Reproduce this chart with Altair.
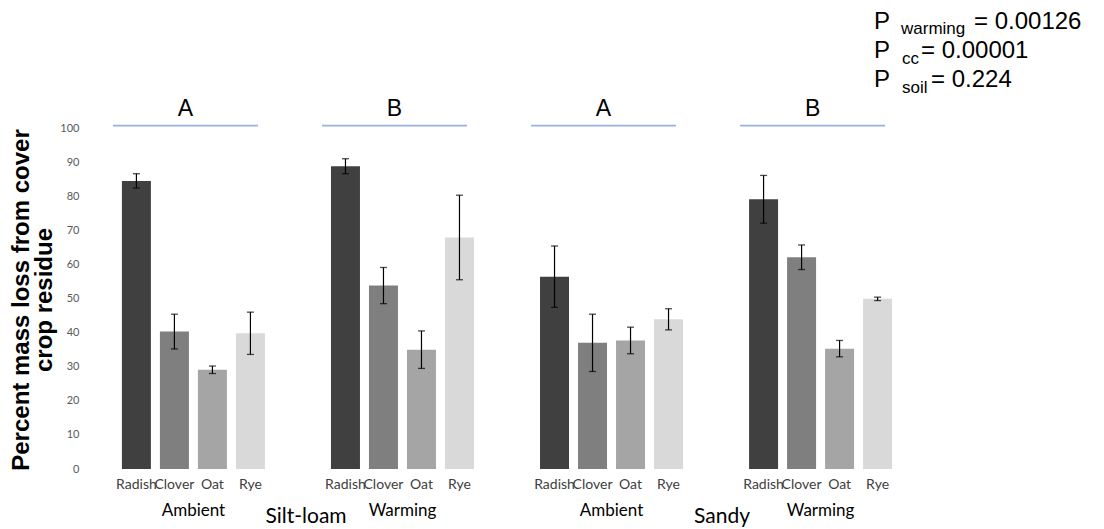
import altair as alt
import pandas as pd

groups = ["Ambient|Silt-loam", "Warming|Silt-loam", "Ambient|Sandy", "Warming|Sandy"]
crops = ["Radish", "Clover", "Oat", "Rye"]
crop_colors = ["#404040", "#7f7f7f", "#a5a5a5", "#d9d9d9"]

mean_g1 = [84.5, 40.3, 29.1, 39.8]
mean_g2 = [88.8, 53.8, 35.0, 67.9]
mean_g3 = [56.4, 37.0, 37.7, 43.9]
mean_g4 = [79.1, 62.1, 35.3, 49.9]
err_g1 = [2.1, 5.1, 1.1, 6.2]
err_g2 = [2.2, 5.3, 5.5, 12.4]
err_g3 = [9.0, 8.4, 3.9, 3.1]
err_g4 = [7.0, 3.6, 2.4, 0.5]

letters = ["A", "B", "A", "B"]
y_ticks = [0, 10, 20, 30, 40, 50, 60, 70, 80, 90, 100]
y_title = ["Percent mass loss from cover", "crop residue"]

means = [mean_g1, mean_g2, mean_g3, mean_g4]
errs = [err_g1, err_g2, err_g3, err_g4]
rows = []
for g, m, e in zip(groups, means, errs):
    for c, mv, ev in zip(crops, m, e):
        rows.append({"group": g, "crop": c, "mean": mv, "lo": mv - ev, "hi": mv + ev})
df = pd.DataFrame(rows)
sig = pd.DataFrame({"group": groups, "letter": letters, "line": 100.7, "ly": 103.4})

W = 836
H = 461
YMAX = 135.2

xscale = alt.Scale(domain=groups, paddingInner=0.273, paddingOuter=0.136)
xoff = alt.XOffset("crop:N", sort=crops,
                   scale=alt.Scale(domain=crops, paddingInner=0.237, paddingOuter=0.118))
X = alt.X("group:N", sort=groups, scale=xscale,
          axis=alt.Axis(title=None, domain=False, ticks=False, labelAngle=0,
                        labelExpr="split(datum.label, '|')[0]",
                        labelFont="Lato", labelFontSize=17, labelColor="#000000",
                        labelPadding=33))
Y = alt.Y("mean:Q", scale=alt.Scale(domain=[0, YMAX], nice=False, zero=True),
          axis=alt.Axis(values=y_ticks, domain=False, ticks=False, grid=False,
                        labelFont="Lato", labelFontSize=11, labelColor="#595959",
                        labelPadding=10, title=None))

base = alt.Chart(df)
Xp = alt.X("group:N", sort=groups, scale=xscale)

bars = base.mark_bar().encode(
    x=X, xOffset=xoff, y=Y,
    color=alt.Color("crop:N", scale=alt.Scale(domain=crops, range=crop_colors), legend=None),
)
err_rule = base.mark_rule(color="#000000", strokeWidth=1.2).encode(
    x=Xp, xOffset=xoff, y=alt.Y("lo:Q"), y2="hi:Q")
err_top = base.mark_tick(orient="horizontal", size=7, thickness=1.3, color="#000000").encode(
    x=Xp, xOffset=xoff, y=alt.Y("hi:Q"))
err_bot = base.mark_tick(orient="horizontal", size=7, thickness=1.3, color="#000000").encode(
    x=Xp, xOffset=xoff, y=alt.Y("lo:Q"))
crop_lbl = base.mark_text(font="Lato", fontSize=14, color="#404040", baseline="alphabetic").encode(
    x=Xp, xOffset=xoff, y=alt.value(H + 20), text="crop:N")

sig_line = alt.Chart(sig).mark_tick(orient="horizontal", size=145, thickness=1.6,
                                    color="#6f8fd6", xOffset=-8).encode(
    x=Xp, y=alt.Y("line:Q"))
sig_txt = alt.Chart(sig).mark_text(font="Liberation Sans", fontSize=23, color="#000000",
                                   baseline="alphabetic", dx=-8).encode(
    x=Xp, y=alt.Y("ly:Q"), text="letter:N")


def label(txt, x, y, size, align="left", font="Liberation Sans"):
    return alt.Chart(pd.DataFrame({"t": [txt]})).mark_text(
        font=font, fontSize=size, color="#000000", align=align, baseline="alphabetic"
    ).encode(text="t:N", x=alt.value(x), y=alt.value(y))


ytitle = alt.Chart(pd.DataFrame({"k": [0]})).mark_text(
    text=y_title, font="Liberation Sans", fontWeight="bold", fontSize=24, lineHeight=23,
    angle=270, align="center", baseline="alphabetic", color="#000000"
).encode(x=alt.value(-60), y=alt.value(292))

annots = [
    label("P", 785, 21, 24), label("warming", 812, 26, 17), label("= 0.00126", 885, 21, 24),
    label("P", 785, 50, 24), label("cc", 813, 56, 17), label("= 0.00001", 832, 50, 24),
    label("P", 785, 79, 24), label("soil", 813, 85, 17), label("= 0.224", 842, 79, 24),
    label("Silt-loam", 217, 515, 21, align="center", font="Lato"),
    label("Sandy", 633, 515, 21, align="center", font="Lato"),
]

chart = alt.layer(bars, err_rule, err_top, err_bot, crop_lbl, sig_line, sig_txt, ytitle, *annots).properties(
    width=W, height=H,
    padding={"left": 2, "top": 0, "right": 0, "bottom": 0},
).configure_view(stroke=None)

chart.save("out.html", embed_options={"renderer": "svg", "actions": False})
